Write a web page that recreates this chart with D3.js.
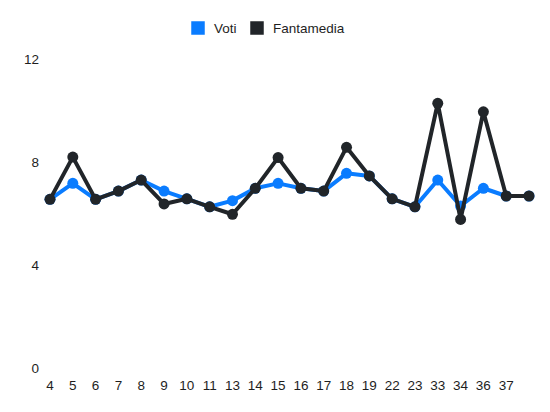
<!DOCTYPE html>
<html>
<head>
<meta charset="utf-8">
<script src="https://cdn.jsdelivr.net/npm/d3@7"></script>
<style>
  body { margin: 0; background: #fff; }
  text { font-family: "Liberation Sans", Arial, sans-serif; }
</style>
</head>
<body>
<div id="chart"></div>
<script>
var svgWidth = 550;
var svgHeight = 412;

// match days and series values
var giornate = ["4", "5", "6", "7", "8", "9", "10", "11", "13", "14", "15", "16", "17", "18", "19", "22", "23", "33", "34", "36", "37", ""];
var voti = [6.55, 7.17, 6.55, 6.87, 7.3, 6.87, 6.57, 6.26, 6.5, 6.98, 7.17, 6.98, 6.87, 7.56, 7.46, 6.57, 6.26, 7.3, 6.29, 6.98, 6.68, 6.68];
var fantamedia = [6.55, 8.19, 6.55, 6.87, 7.3, 6.37, 6.57, 6.26, 5.97, 6.98, 8.17, 6.98, 6.87, 8.57, 7.46, 6.57, 6.26, 10.28, 5.77, 9.95, 6.68, 6.68];
var yTicks = [0, 4, 8, 12];

var series = [
    { name: "Voti", values: voti, color: "#0a7cff" },
    { name: "Fantamedia", values: fantamedia, color: "#212529" }
];

var svg = d3.select("#chart")
    .append("svg")
    .attr("width", svgWidth)
    .attr("height", svgHeight);

var xScale = d3.scalePoint()
    .domain(d3.range(giornate.length))
    .range([50, 529]);

var yScale = d3.scaleLinear()
    .domain([0, 12])
    .range([368, 59]);

// y axis labels
svg.append("g")
    .selectAll("text")
    .data(yTicks)
    .enter()
    .append("text")
    .attr("x", 39)
    .attr("y", d => yScale(d))
    .attr("dy", "0.35em")
    .attr("text-anchor", "end")
    .attr("font-size", 13.5)
    .attr("fill", "#1e1e1e")
    .text(d => d);

// x axis labels
svg.append("g")
    .selectAll("text")
    .data(giornate)
    .enter()
    .append("text")
    .attr("x", (d, i) => xScale(i))
    .attr("y", 385)
    .attr("dy", "0.35em")
    .attr("text-anchor", "middle")
    .attr("font-size", 13.5)
    .attr("fill", "#1e1e1e")
    .text(d => d);

var line = d3.line()
    .x((d, i) => xScale(i))
    .y(d => yScale(d));

series.forEach(function (s) {
    svg.append("path")
        .datum(s.values)
        .attr("fill", "none")
        .attr("stroke", s.color)
        .attr("stroke-width", 4)
        .attr("stroke-linejoin", "round")
        .attr("d", line);

    svg.append("g")
        .selectAll("circle")
        .data(s.values)
        .enter()
        .append("circle")
        .attr("cx", (d, i) => xScale(i))
        .attr("cy", d => yScale(d))
        .attr("r", 5.5)
        .attr("fill", s.color);
});

// legend
var legend = svg.append("g");
var legendX = [191, 250];
series.forEach(function (s, i) {
    legend.append("rect")
        .attr("x", legendX[i])
        .attr("y", 21)
        .attr("width", 14)
        .attr("height", 14)
        .attr("fill", s.color)
        .attr("stroke", "#fff")
        .attr("stroke-width", 0.5);
    legend.append("text")
        .attr("x", legendX[i] + 23)
        .attr("y", 28)
        .attr("dy", "0.35em")
        .attr("font-size", 13.5)
        .attr("fill", "#1e1e1e")
        .text(s.name);
});
</script>
</body>
</html>
